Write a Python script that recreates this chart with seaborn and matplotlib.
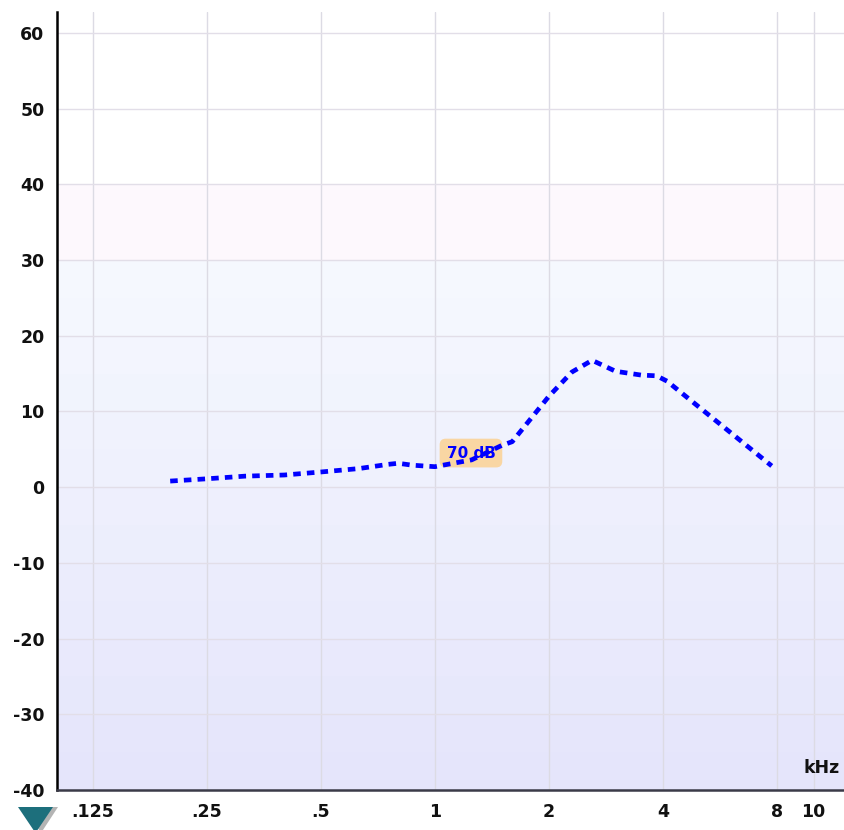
import numpy as np
import pandas as pd
import seaborn as sns
import matplotlib
matplotlib.use("Agg")
import matplotlib.pyplot as plt
from matplotlib.patches import Polygon

# ---- data ----
freq_khz = [0.2, 0.25, 0.315, 0.4, 0.5, 0.63, 0.75, 0.8, 0.87, 1.0, 1.25, 1.5, 1.6,
            2.0, 2.3, 2.6, 3.0, 3.5, 3.85, 4.1, 7.75]
gain_db = [0.8, 1.1, 1.45, 1.6, 2.0, 2.45, 3.0, 3.15, 2.9, 2.7, 3.6, 5.5, 6.0,
           12.0, 15.2, 16.75, 15.3, 14.8, 14.7, 14.0, 2.8]
x_ticks = [0.125, 0.25, 0.5, 1, 2, 4, 8, 10]
x_tick_labels = [".125", ".25", ".5", "1", "2", "4", "8", "10"]
y_ticks = [-40, -30, -20, -10, 0, 10, 20, 30, 40, 50, 60]
y_tick_labels = [str(v) for v in y_ticks]
level_label = "70 dB"
unit_label = "kHz"

df = pd.DataFrame({"freq": freq_khz, "gain": gain_db})

sns.set_theme(style="white")
plt.rcParams["font.family"] = ["DejaVu Sans"]

W, H = 845, 830
fig = plt.figure(figsize=(W / 100, H / 100), dpi=100)
ax = fig.add_axes([57 / W, 1 - 790 / H, (W - 57) / W, (790 - 12) / H])
ax.set_facecolor("white")

ax.set_xscale("log", base=2)
ax.set_xlim(0.1005, 12.1)
ax.set_ylim(-40, 62.75)

# background bands
ax.axhspan(30, 40, color="#fdf8fd", zorder=0, lw=0)
c_top = np.array([245, 248, 254]) / 255
c_bot = np.array([229, 229, 251]) / 255
edges = np.arange(30, -40, -5)
n = len(edges)
for i, e in enumerate(edges):
    t = i / (n - 1)
    c = c_top * (1 - t) + c_bot * t
    ax.axhspan(e - 5, e, color=c, zorder=0, lw=0)

# grid
for xv in x_ticks:
    ax.axvline(xv, color="#dcdbe4", lw=1, zorder=0.5)
for yv in y_ticks:
    ax.axhline(yv, color="#e2dee8", lw=1, zorder=0.5)

# curve
sns.lineplot(data=df, x="freq", y="gain", ax=ax, color="#0000ff", lw=3.4,
             sort=False, zorder=3)
ax.lines[-1].set_dashes((1.6, 1.3))
ax.lines[-1].set_dash_capstyle("butt")

# level label box
ax.text(1.245, 4.5, level_label, ha="center", va="center", fontsize=11,
        fontweight="bold", color="none", zorder=1,
        bbox=dict(boxstyle="round,pad=0.45,rounding_size=0.4", fc="#f9d6a3",
                  ec="none"))
ax.text(1.245, 4.5, level_label, ha="center", va="center", fontsize=11,
        fontweight="bold", color="#0000ff", zorder=4)

ax.text(10.52, -37.1, unit_label, ha="center", va="center", fontsize=12.5,
        fontweight="bold", color="#111111", zorder=4)

ax.set_xticks(x_ticks)
ax.set_xticklabels(x_tick_labels)
ax.set_yticks(y_ticks)
ax.set_yticklabels(y_tick_labels)
ax.xaxis.set_minor_locator(matplotlib.ticker.NullLocator())
ax.tick_params(axis="both", length=0, labelsize=12.5, colors="#111111")
ax.tick_params(axis="x", pad=9)
ax.tick_params(axis="y", pad=9)
for lab in ax.get_xticklabels() + ax.get_yticklabels():
    lab.set_fontweight("bold")
ax.set_xlabel("")
ax.set_ylabel("")

for s in ["top", "right"]:
    ax.spines[s].set_visible(False)
ax.spines["left"].set_color("#000000")
ax.spines["left"].set_linewidth(1.8)
ax.spines["bottom"].set_color("#3a3a48")
ax.spines["bottom"].set_linewidth(1.8)

# teal marker triangle with shadow (figure pixel coords)
def px(x, y):
    return (x / W, 1 - y / H)

shadow = Polygon([px(24, 807), px(58, 807), px(41, 833)], closed=True,
                 transform=fig.transFigure, fc="#b4b4b4", ec="none")
tri = Polygon([px(18, 807), px(53, 807), px(35.5, 833)], closed=True,
              transform=fig.transFigure, fc="#1d6f7c", ec="none")
fig.patches.extend([shadow, tri])

fig.savefig("out.png", dpi=100)
